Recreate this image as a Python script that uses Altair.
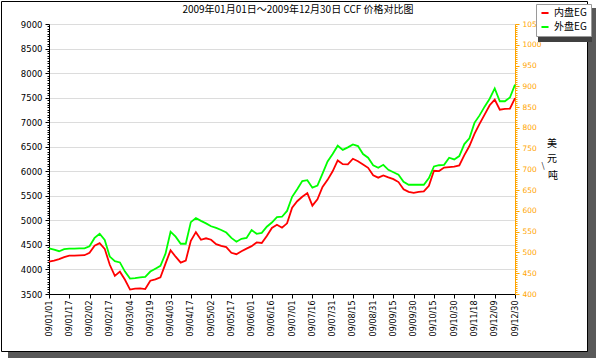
import altair as alt
import pandas as pd

title_text = "2009年01月01日～2009年12月30日 CCF 价格对比图"
date_labels = ["09/01/01", "09/01/17", "09/02/02", "09/02/17", "09/03/04", "09/03/19",
               "09/04/03", "09/04/17", "09/05/02", "09/05/17", "09/06/01", "09/06/16",
               "09/07/01", "09/07/16", "09/07/31", "09/08/15", "09/08/31", "09/09/15",
               "09/09/30", "09/10/15", "09/10/30", "09/11/18", "09/12/09", "09/12/30"]
series_names = ["内盘EG", "外盘EG"]
series_colors = ["#ff0000", "#00ff00"]
right_title = ["美", "元", "\\", "吨"]

# 内盘EG (RMB/ton, left axis)
inner_eg = [4160, 4180, 4210, 4250, 4280, 4280, 4285, 4290, 4340, 4485,
            4535, 4420, 4095, 3870, 3955, 3790, 3590, 3610, 3615, 3600,
            3770, 3800, 3840, 4120, 4390, 4260, 4140, 4180, 4585, 4760,
            4605, 4635, 4605, 4515, 4480, 4455, 4340, 4310, 4370, 4425,
            4475, 4550, 4540, 4680, 4845, 4910, 4850, 4940, 5260, 5390,
            5480, 5555, 5300, 5430, 5680, 5825, 6000, 6220, 6145, 6140,
            6255, 6205, 6140, 6070, 5920, 5870, 5915, 5875, 5840, 5780,
            5635, 5580, 5560, 5580, 5590, 5705, 6010, 6005, 6075, 6085,
            6095, 6120, 6330, 6515, 6760, 6965, 7155, 7345, 7460, 7255,
            7270, 7275, 7490]
# 外盘EG (USD/ton, right axis)
outer_eg = [510, 507, 503, 508, 509, 509, 510, 510, 515, 535,
            545, 530, 490, 479, 476, 454, 437, 438, 440, 441,
            454, 461, 468, 497, 550, 538, 521, 521, 573, 583,
            576, 570, 563, 559, 554, 548, 535, 526, 533, 535,
            554, 545, 547, 562, 572, 585, 586, 600, 634, 652,
            672, 674, 656, 661, 690, 719, 737, 757, 747, 753,
            760, 756, 737, 728, 710, 704, 711, 699, 693, 687,
            670, 663, 663, 663, 663, 679, 707, 710, 711, 728,
            724, 732, 761, 775, 812, 830, 851, 870, 895, 864,
            864, 873, 904]

left_domain = [3500, 9000]
right_domain = [400, 1050]
steps_per_label = 4

n = len(inner_eg)
df_in = pd.DataFrame({"i": list(range(n)), "v": inner_eg, "series": series_names[0]})
df_out = pd.DataFrame({"i": list(range(n)), "v": outer_eg, "series": series_names[1]})

x_vals = [k * steps_per_label for k in range(len(date_labels))]
lab_arr = "[" + ",".join("'" + s + "'" for s in date_labels) + "]"
x_axis = alt.Axis(values=x_vals, labelExpr=lab_arr + "[round(datum.value / 4)]",
                  labelAngle=270, labelFont="DejaVu Sans", labelFontSize=8,
                  labelColor="black", labelPadding=2, tickSize=4, tickColor="black",
                  domainColor="black", grid=False, title=None, labelOverlap=False)
x_enc = alt.X("i:Q", scale=alt.Scale(domain=[0, n - 1], nice=False, zero=False), axis=x_axis)

color_enc = alt.Color("series:N",
                      scale=alt.Scale(domain=series_names, range=series_colors),
                      legend=alt.Legend(orient="none", legendX=487, legendY=-20,
                                        title=None, fillColor="white", strokeColor="#9a9a9a",
                                        padding=4, symbolType="stroke", symbolStrokeWidth=2,
                                        symbolSize=50, labelFont="Noto Sans CJK SC",
                                        labelFontSize=10, labelColor="black",
                                        rowPadding=4, labelOffset=4))

left_ticks = list(range(left_domain[0], left_domain[1] + 1, 50))
left_axis = alt.Axis(values=left_ticks, format="d",
                     labelExpr="datum.value % 500 === 0 ? datum.label : ''",
                     tickSize={"condition": {"test": "datum.value % 500 === 0", "value": 4}, "value": 2},
                     grid=True, gridColor="#dcdcdc",
                     gridOpacity={"condition": {"test": "datum.value % 500 === 0", "value": 1}, "value": 0},
                     labelFont="DejaVu Sans", labelFontSize=8.5, labelColor="black",
                     labelPadding=3, tickColor="black", domainColor="black",
                     title=None, labelOverlap=False)

right_ticks = list(range(right_domain[0], right_domain[1] + 1, 5))
right_axis = alt.Axis(orient="right", values=right_ticks, format="d",
                      labelExpr="datum.value % 50 === 0 ? datum.label : ''",
                      tickSize={"condition": {"test": "datum.value % 50 === 0", "value": 4}, "value": 2},
                      grid=False, labelFont="DejaVu Sans", labelFontSize=7.5,
                      labelColor="#ffa500", tickColor="#ffa500", domainColor="#ffa500",
                      labelPadding=3, labelOverlap=False, title=None)

one = alt.Data(values=[{"a": 1}])

shadow_right = alt.Chart(one).mark_rect(color="#595959").encode(
    x=alt.value(539), x2=alt.value(547), y=alt.value(-16), y2=alt.value(334))
shadow_bottom = alt.Chart(one).mark_rect(color="#595959").encode(
    x=alt.value(-41), x2=alt.value(547), y=alt.value(327), y2=alt.value(334))
frame = alt.Chart(one).mark_rect(fillOpacity=0, stroke="black", strokeWidth=1).encode(
    x=alt.value(-47.5), x2=alt.value(538.5), y=alt.value(-22.5), y2=alt.value(327.5))
legend_shadow = alt.Chart(one).mark_rect(color="#404040").encode(
    x=alt.value(489), x2=alt.value(543), y=alt.value(-18), y2=alt.value(18))

title_mark = alt.Chart(one).mark_text(font="Noto Sans CJK SC", fontSize=10, color="black",
                                      align="center", baseline="middle").encode(
    x=alt.value(249), y=alt.value(-14.5), text=alt.value(title_text))

rt_cfg = dict(font="Noto Sans CJK SC", color="black", align="center", baseline="middle")
rt1 = alt.Chart(one).mark_text(fontSize=10, **rt_cfg).encode(
    x=alt.value(503), y=alt.value(119.5), text=alt.value(right_title[0]))
rt2 = alt.Chart(one).mark_text(fontSize=10, **rt_cfg).encode(
    x=alt.value(503), y=alt.value(134.5), text=alt.value(right_title[1]))
rt3 = alt.Chart(one).mark_text(fontSize=8, **rt_cfg).encode(
    x=alt.value(494), y=alt.value(142), text=alt.value(right_title[2]))
rt4 = alt.Chart(one).mark_text(fontSize=10, **rt_cfg).encode(
    x=alt.value(504), y=alt.value(152), text=alt.value(right_title[3]))

red_line = alt.Chart(df_in).mark_line(strokeWidth=1.8).encode(
    x=x_enc,
    y=alt.Y("v:Q", scale=alt.Scale(domain=left_domain, nice=False, zero=False), axis=left_axis),
    color=color_enc)
green_line = alt.Chart(df_out).mark_line(strokeWidth=1.8).encode(
    x=x_enc,
    y=alt.Y("v:Q", scale=alt.Scale(domain=right_domain, nice=False, zero=False), axis=right_axis),
    color=color_enc)

chart = alt.layer(shadow_right, shadow_bottom, frame, legend_shadow, title_mark,
                  rt1, rt2, rt3, rt4, red_line, green_line).resolve_scale(
    y="independent"
).properties(
    width=466, height=270,
    padding={"left": 49, "top": 24, "right": 81, "bottom": 64},
    autosize=alt.AutoSizeParams(type="none"),
    background="white",
).configure_view(strokeWidth=0)

chart.save("out.html", embed_options={"renderer": "svg", "actions": False})
